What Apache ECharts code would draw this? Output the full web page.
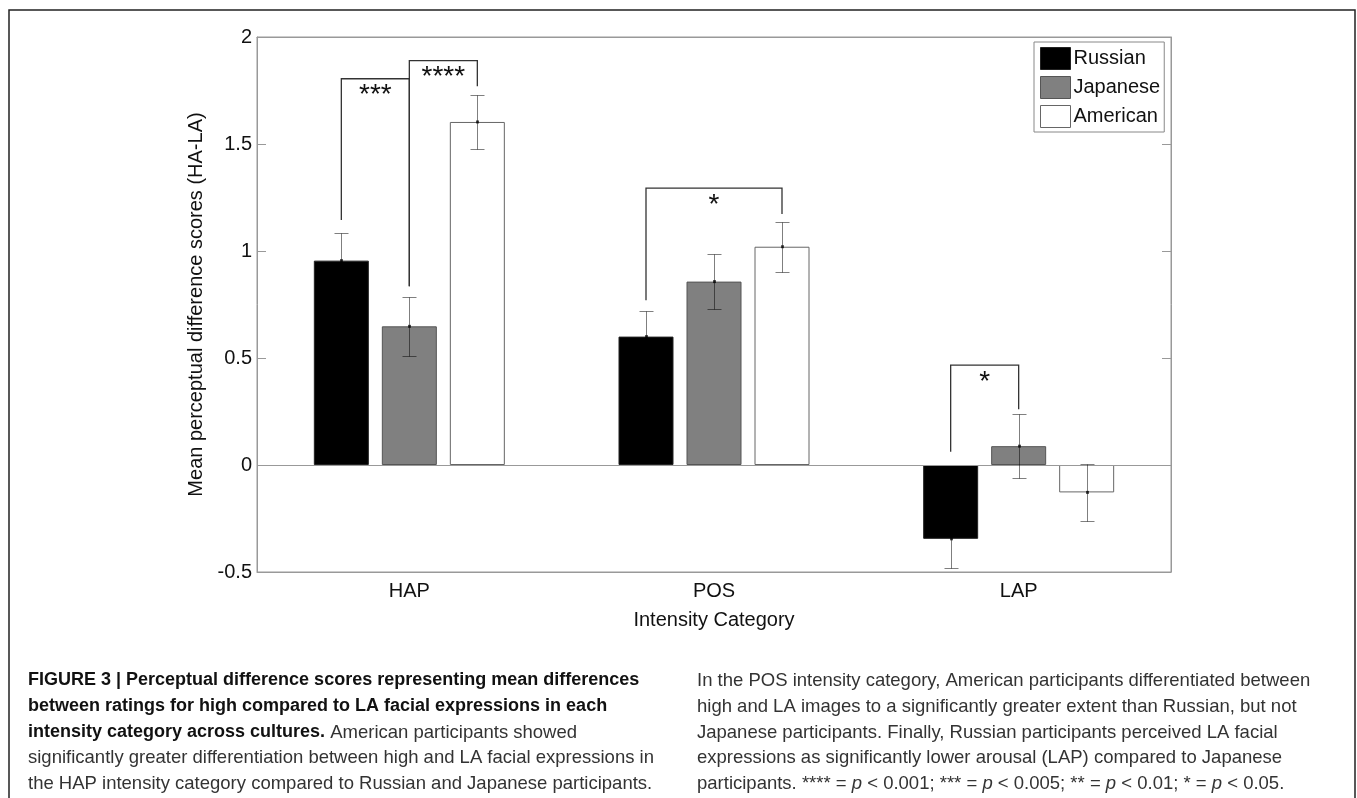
<!DOCTYPE html>
<html>
<head>
<meta charset="utf-8">
<script src="https://cdn.jsdelivr.net/npm/echarts@6/dist/echarts.min.js"></script>
<style>
  html, body { margin: 0; padding: 0; background: #fff; }
  #chart { width: 1357px; height: 798px; }
</style>
</head>
<body>
<div id="chart"></div>
<script>
// values
var categories = ['HAP', 'POS', 'LAP'];
var groups = ['Russian', 'Japanese', 'American'];
var russian = [0.955, 0.60, -0.345];
var japanese = [0.648, 0.857, 0.088];
var american = [1.603, 1.02, -0.128];
var russianErr = [0.13, 0.12, 0.138];
var japaneseErr = [0.137, 0.128, 0.15];
var americanErr = [0.125, 0.117, 0.134];

// significance brackets: category, from bar, to bar, top, left leg end, right leg end
var sigCat = [0, 0, 1, 2];
var sigFrom = [0, 1, 0, 0];
var sigTo = [1, 2, 2, 1];
var sigTop = [1.805, 1.89, 1.294, 0.467];
var sigLeftEnd = [1.145, 0.835, 0.77, 0.062];
var sigRightEnd = [0.835, 1.77, 1.173, 0.26];
var sigLabel = ['***', '****', '*', '*'];

var captionLeft = [
    '{b|FIGURE 3 | Perceptual difference scores representing mean differences}',
    '{b|between ratings for high compared to LA facial expressions in each}',
    '{b|intensity category across cultures.}{r| American participants showed}',
    '{r|significantly greater differentiation between high and LA facial expressions in}',
    '{r|the HAP intensity category compared to Russian and Japanese participants.}'
];
var captionRight = [
    '{r|In the POS intensity category, American participants differentiated between}',
    '{r|high and LA images to a significantly greater extent than Russian, but not}',
    '{r|Japanese participants. Finally, Russian participants perceived LA facial}',
    '{r|expressions as significantly lower arousal (LAP) compared to Japanese}',
    '{r|participants. **** = }{i|p}{r| < 0.001; *** = }{i|p}{r| < 0.005; ** = }{i|p}{r| < 0.01; * = }{i|p}{r| < 0.05.}'
];

var BAR_W = 55;
var BAR_GAP = 13;
var FONT = '"Liberation Sans", Arial, sans-serif';
var CAP_FONT = '"Liberation Sans Narrow", "Liberation Sans", sans-serif';

var chart = echarts.init(document.getElementById('chart'));

var errData = [];
[russian, japanese, american].forEach(function (vals, k) {
    var errs = [russianErr, japaneseErr, americanErr][k];
    vals.forEach(function (v, i) {
        errData.push([i, v, k, errs[i]]);
    });
});

var sigData = sigCat.map(function (c, i) {
    return [c, sigTop[i], sigFrom[i], sigTo[i], sigLeftEnd[i], sigRightEnd[i]];
});

function barX(api, cat, k) {
    return api.coord([cat, 0])[0] + (k - 1) * (BAR_W + BAR_GAP);
}

// thin semi-transparent black: grey on white, darker on grey, hidden on black
function renderErr(params, api) {
    var cat = api.value(0), m = api.value(1), k = api.value(2), e = api.value(3);
    var x = Math.round(barX(api, cat, k)) + 0.5;
    var yt = Math.round(api.coord([cat, m + e])[1]) + 0.5;
    var yb = Math.round(api.coord([cat, m - e])[1]) + 0.5;
    var ym = api.coord([cat, m])[1];
    var st = { stroke: 'rgba(0,0,0,0.5)', lineWidth: 1 };
    return {
        type: 'group',
        children: [
            { type: 'line', shape: { x1: x, y1: yt, x2: x, y2: yb }, style: st },
            { type: 'line', shape: { x1: x - 7, y1: yt, x2: x + 7, y2: yt }, style: st },
            { type: 'line', shape: { x1: x - 7, y1: yb, x2: x + 7, y2: yb }, style: st },
            { type: 'rect', shape: { x: x - 1.5, y: ym - 1.5, width: 3, height: 3 }, style: { fill: 'rgba(0,0,0,0.7)' } }
        ]
    };
}

function renderSig(params, api) {
    var cat = api.value(0), top = api.value(1);
    var x1 = barX(api, cat, api.value(2));
    var x2 = barX(api, cat, api.value(3));
    var yt = api.coord([cat, top])[1];
    var yl = api.coord([cat, api.value(4)])[1];
    var yr = api.coord([cat, api.value(5)])[1];
    return {
        type: 'group',
        children: [
            {
                type: 'polyline',
                shape: { points: [[x1, yl], [x1, yt], [x2, yt], [x2, yr]] },
                style: { stroke: '#333', lineWidth: 1.3, fill: null }
            },
            {
                type: 'text',
                style: {
                    x: (x1 + x2) / 2, y: yt + 17,
                    text: sigLabel[params.dataIndex],
                    font: '28px ' + FONT, fill: '#111',
                    align: 'center', verticalAlign: 'middle'
                }
            }
        ]
    };
}

var captionGraphics = [];
var lineY = [682, 708, 734, 759, 785];
var rich = {
    b: { font: 'bold 18px ' + CAP_FONT, fill: '#111' },
    r: { font: '18.5px ' + CAP_FONT, fill: '#333' },
    i: { font: 'italic 18.5px ' + CAP_FONT, fill: '#333' }
};
captionLeft.forEach(function (t, i) {
    captionGraphics.push({
        type: 'text', left: 28, top: lineY[i] - 11,
        style: { text: t, rich: rich, font: '18.5px ' + CAP_FONT }
    });
});
captionRight.forEach(function (t, i) {
    captionGraphics.push({
        type: 'text', left: 697, top: lineY[i] - 11,
        style: { text: t, rich: rich, font: '18.5px ' + CAP_FONT }
    });
});

var axisStyle = { color: '#999', width: 1 };
var labelStyle = { color: '#111', fontSize: 20, fontFamily: FONT };

option = {
    animation: false,
    backgroundColor: '#fff',
    textStyle: { fontFamily: FONT },
    grid: { left: 257, top: 37, width: 914, height: 535, show: true, borderColor: '#999', borderWidth: 1 },
    legend: {
        orient: 'vertical',
        left: 1034, top: 42,
        padding: [5, 4, 4, 6],
        itemWidth: 30, itemHeight: 22, itemGap: 6,
        borderColor: '#888', borderWidth: 1,
        textStyle: { fontSize: 20, color: '#111', fontFamily: FONT, padding: [0, 0, 0, -2] },
        data: [
            { name: 'Russian', icon: 'rect', itemStyle: { color: '#000', borderColor: '#222', borderWidth: 1 } },
            { name: 'Japanese', icon: 'rect', itemStyle: { color: '#808080', borderColor: '#555', borderWidth: 1 } },
            { name: 'American', icon: 'rect', itemStyle: { color: '#fff', borderColor: '#666', borderWidth: 1 } }
        ]
    },
    xAxis: [{
        type: 'category',
        data: categories,
        axisLine: { onZero: false, lineStyle: axisStyle },
        axisTick: { inside: true, alignWithLabel: true, length: 9, lineStyle: axisStyle },
        axisLabel: Object.assign({ margin: 9 }, labelStyle),
        name: 'Intensity Category',
        nameLocation: 'middle',
        nameGap: 38,
        nameTextStyle: labelStyle
    }, {
        type: 'category',
        position: 'top',
        data: categories,
        axisLine: { onZero: false, lineStyle: axisStyle },
        axisTick: { inside: true, alignWithLabel: true, length: 9, lineStyle: axisStyle },
        axisLabel: { show: false }
    }],
    yAxis: [{
        type: 'value',
        min: -0.5, max: 2, interval: 0.5,
        axisLine: { show: true, lineStyle: axisStyle },
        axisTick: { show: true, inside: true, length: 9, lineStyle: axisStyle },
        axisLabel: Object.assign({ margin: 5 }, labelStyle),
        splitLine: { show: false },
        name: 'Mean perceptual difference scores (HA-LA)',
        nameLocation: 'middle',
        nameGap: 48,
        nameTextStyle: labelStyle
    }, {
        type: 'value',
        position: 'right',
        min: -0.5, max: 2, interval: 0.5,
        axisLine: { show: true, lineStyle: axisStyle },
        axisTick: { show: true, inside: true, length: 9, lineStyle: axisStyle },
        axisLabel: { show: false },
        splitLine: { show: false }
    }],
    graphic: [{
        type: 'rect',
        shape: { x: 9, y: 10, width: 1346, height: 900 },
        style: { fill: null, stroke: '#222', lineWidth: 1.5 },
        silent: true
    }].concat(captionGraphics),
    series: [{
        name: 'Russian', type: 'bar', data: russian,
        barWidth: BAR_W, barGap: (BAR_GAP / BAR_W * 100) + '%',
        itemStyle: { color: '#000', borderColor: '#222', borderWidth: 1 },
        markLine: {
            silent: true, symbol: 'none', label: { show: false },
            lineStyle: { color: '#999', type: 'solid', width: 1 },
            data: [{ yAxis: 0 }]
        }
    }, {
        name: 'Japanese', type: 'bar', data: japanese,
        barWidth: BAR_W, barGap: (BAR_GAP / BAR_W * 100) + '%',
        itemStyle: { color: '#808080', borderColor: '#555', borderWidth: 1 }
    }, {
        name: 'American', type: 'bar', data: american,
        barWidth: BAR_W, barGap: (BAR_GAP / BAR_W * 100) + '%',
        itemStyle: { color: '#fff', borderColor: '#666', borderWidth: 1 }
    }, {
        type: 'custom', renderItem: renderErr, data: errData, z: 5,
        encode: { x: 0, y: 1 }, silent: true
    }, {
        type: 'custom', renderItem: renderSig, data: sigData, z: 6,
        encode: { x: 0, y: 1 }, silent: true
    }]
};

if (option && typeof option === "object") {
    chart.setOption(option, true);
}
</script>
</body>
</html>
